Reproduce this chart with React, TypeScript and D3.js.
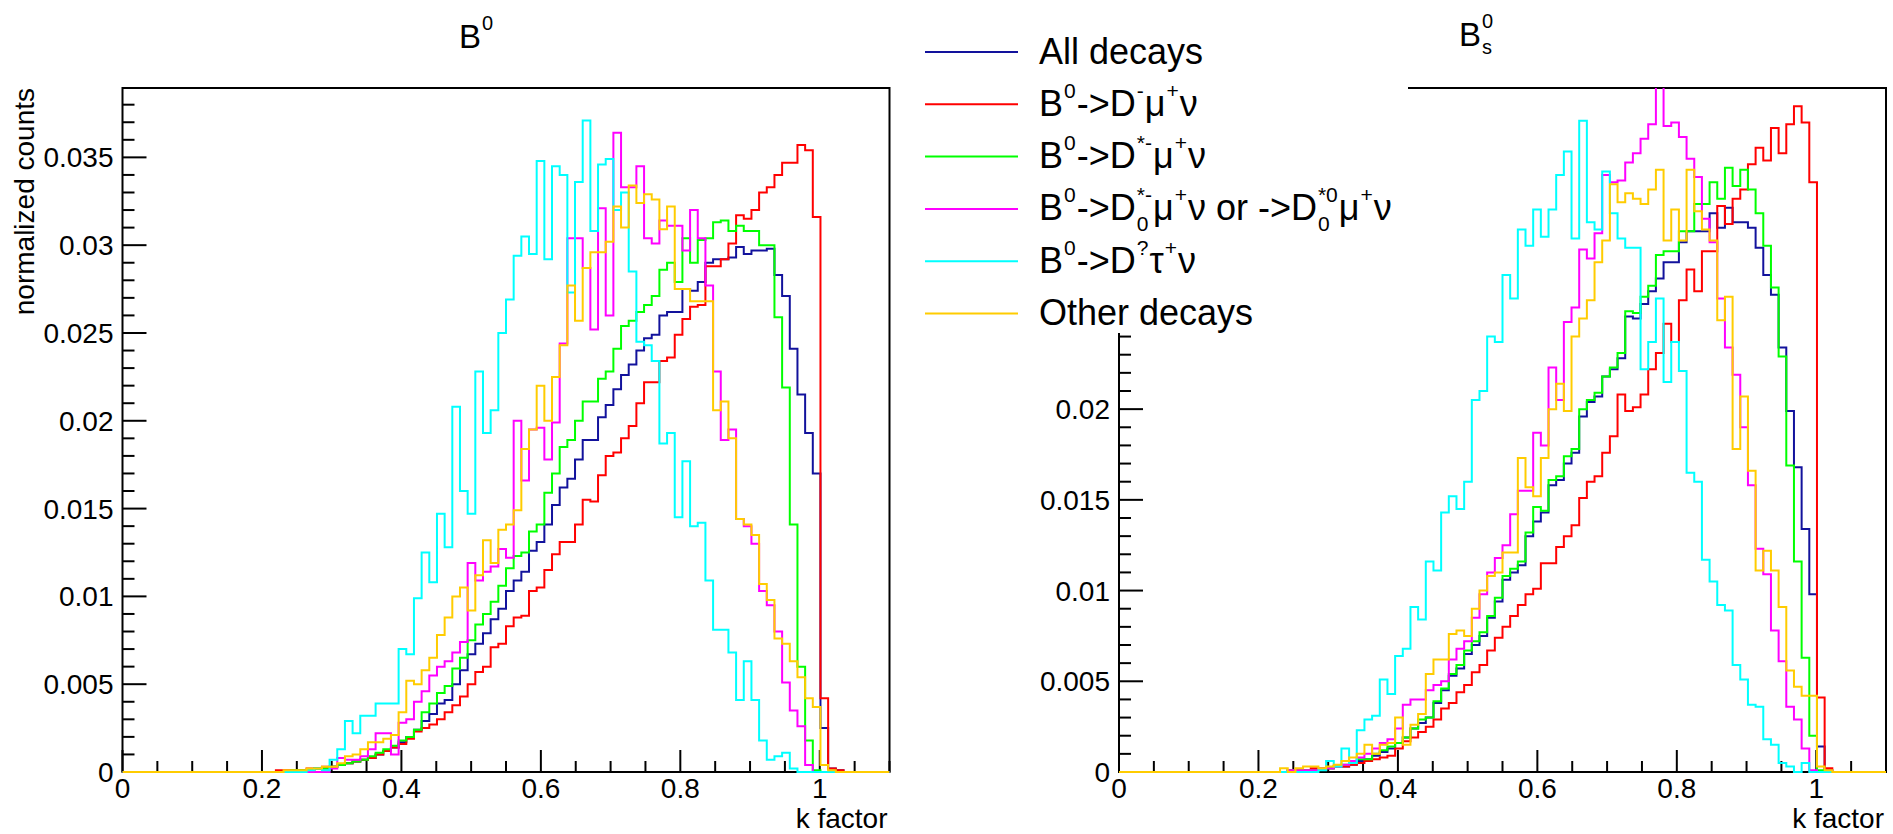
import React, { useEffect, useRef } from "react";
import * as d3 from "d3";

const WIDTH = 1893;
const HEIGHT = 834;
const N_BINS = 100;
const K_MAX = 1.1;
const FIRST_BIN = 18; // arrays below hold bins 18..97, all other bins are empty

// ---------- B0 panel (bins 18..97) ----------
const B0_ALL = [
  0, 0, 0, 0, 0.0001, 0.0001, 0.0001, 0.0002, 0.0002, 0.0003,
  0.0004, 0.0005, 0.0006, 0.0007, 0.0008, 0.0010, 0.0012, 0.0014, 0.0017, 0.0020,
  0.0024, 0.0029, 0.0033, 0.0039, 0.0041, 0.0050, 0.0058, 0.0067, 0.0073, 0.0079,
  0.0087, 0.0093, 0.0103, 0.0109, 0.0114, 0.0126, 0.0131, 0.0141, 0.0152, 0.0162,
  0.0167, 0.0178, 0.0189, 0.0189, 0.0202, 0.0209, 0.0218, 0.0226, 0.0232, 0.0240,
  0.0247, 0.0249, 0.0260, 0.0262, 0.0262, 0.0275, 0.0274, 0.0279, 0.0290, 0.0292,
  0.0292, 0.0293, 0.0299, 0.0295, 0.0297, 0.0297, 0.0298, 0.0283, 0.0271, 0.0241,
  0.0215, 0.0193, 0.0170, 0.0025, 0.0002, 0.0001, 0, 0, 0, 0,
];
const B0_DMUNU = [
  0, 0, 0.0001, 0.0001, 0.0001, 0.0001, 0.0002, 0.0002, 0.0003, 0.0003,
  0.0004, 0.0005, 0.0006, 0.0007, 0.0008, 0.0010, 0.0012, 0.0014, 0.0016, 0.0019,
  0.0023, 0.0025, 0.0027, 0.0030, 0.0034, 0.0038, 0.0043, 0.0050, 0.0057, 0.0060,
  0.0071, 0.0073, 0.0083, 0.0088, 0.0089, 0.0103, 0.0105, 0.0115, 0.0124, 0.0131,
  0.0131, 0.0141, 0.0155, 0.0154, 0.0169, 0.0180, 0.0182, 0.0190, 0.0197, 0.0210,
  0.0222, 0.0222, 0.0234, 0.0236, 0.0249, 0.0258, 0.0265, 0.0266, 0.0288, 0.0288,
  0.0292, 0.0301, 0.0317, 0.0315, 0.0320, 0.0330, 0.0333, 0.0340, 0.0347, 0.0347,
  0.0357, 0.0354, 0.0316, 0.0042, 0.0002, 0.0001, 0, 0, 0, 0,
];
const B0_DSTARMUNU = [
  0, 0, 0, 0, 0.0001, 0.0001, 0.0001, 0.0002, 0.0002, 0.0003,
  0.0004, 0.0005, 0.0006, 0.0007, 0.0009, 0.0011, 0.0013, 0.0015, 0.0018, 0.0020,
  0.0024, 0.0034, 0.0039, 0.0045, 0.0049, 0.0059, 0.0065, 0.0075, 0.0084, 0.0090,
  0.0097, 0.0106, 0.0116, 0.0123, 0.0125, 0.0137, 0.0141, 0.0159, 0.0170, 0.0185,
  0.0189, 0.0200, 0.0211, 0.0211, 0.0224, 0.0228, 0.0241, 0.0254, 0.0257, 0.0262,
  0.0266, 0.0271, 0.0286, 0.0290, 0.0279, 0.0304, 0.0290, 0.0303, 0.0304, 0.0313,
  0.0314, 0.0308, 0.0311, 0.0308, 0.0308, 0.0300, 0.0300, 0.0259, 0.0219, 0.0141,
  0.0060, 0.0018, 0.0001, 0, 0, 0, 0, 0, 0, 0,
];
const B0_D0STARMUNU = [
  0, 0, 0, 0, 0, 0, 0, 0, 0, 0.0002,
  0.0008, 0.0007, 0.0007, 0.0009, 0.0013, 0.0022, 0.0022, 0.0010, 0.0028, 0.0030,
  0.0040, 0.0046, 0.0055, 0.0060, 0.0063, 0.0068, 0.0074, 0.0119, 0.0109, 0.0114,
  0.0117, 0.0127, 0.0122, 0.0200, 0.0166, 0.0195, 0.0196, 0.0178, 0.0199, 0.0244,
  0.0304, 0.0304, 0.0287, 0.0252, 0.0321, 0.0260, 0.0364, 0.0333, 0.0333, 0.0345,
  0.0304, 0.0301, 0.0314, 0.0311, 0.0311, 0.0297, 0.0320, 0.0304, 0.0277, 0.0228,
  0.0189, 0.0195, 0.0144, 0.0140, 0.0130, 0.0103, 0.0095, 0.0080, 0.0051, 0.0035,
  0.0026, 0.0004, 0, 0, 0, 0, 0, 0, 0, 0,
];
const B0_DTAUNU = [
  0, 0, 0, 0, 0, 0, 0.0001, 0.0002, 0.0001, 0.0007,
  0.0013, 0.0029, 0.0022, 0.0032, 0.0032, 0.0039, 0.0039, 0.0039, 0.0070, 0.0067,
  0.0099, 0.0125, 0.0108, 0.0147, 0.0128, 0.0208, 0.0160, 0.0147, 0.0228, 0.0193,
  0.0206, 0.0250, 0.0269, 0.0294, 0.0305, 0.0295, 0.0348, 0.0292, 0.0345, 0.0340,
  0.0273, 0.0336, 0.0371, 0.0308, 0.0346, 0.0349, 0.0320, 0.0330, 0.0285, 0.0245,
  0.0243, 0.0234, 0.0187, 0.0193, 0.0145, 0.0177, 0.0140, 0.0142, 0.0109, 0.0081,
  0.0081, 0.0068, 0.0041, 0.0063, 0.0041, 0.0018, 0.0007, 0.0009, 0.0011, 0.0002,
  0, 0, 0, 0, 0, 0, 0, 0, 0, 0,
];
const B0_OTHER = [
  0, 0, 0, 0.0001, 0.0001, 0.0001, 0.0002, 0.0002, 0.0003, 0.0003,
  0.0005, 0.0009, 0.0010, 0.0013, 0.0017, 0.0017, 0.0019, 0.0021, 0.0034, 0.0052,
  0.0050, 0.0058, 0.0065, 0.0078, 0.0088, 0.0100, 0.0105, 0.0092, 0.0112, 0.0132,
  0.0119, 0.0138, 0.0141, 0.0149, 0.0184, 0.0195, 0.0220, 0.0200, 0.0225, 0.0243,
  0.0277, 0.0257, 0.0287, 0.0296, 0.0296, 0.0302, 0.0322, 0.0310, 0.0334, 0.0324,
  0.0329, 0.0326, 0.0309, 0.0322, 0.0275, 0.0275, 0.0268, 0.0268, 0.0268, 0.0206,
  0.0211, 0.0190, 0.0144, 0.0141, 0.0135, 0.0107, 0.0098, 0.0076, 0.0073, 0.0063,
  0.0054, 0.0042, 0.0037, 0.0004, 0.0001, 0, 0, 0, 0, 0,
];

// ---------- Bs0 panel (bins 18..97) ----------
const BS_ALL = [
  0, 0, 0, 0, 0.0001, 0.0001, 0.0001, 0.0001, 0.0002, 0.0002,
  0.0003, 0.0003, 0.0004, 0.0006, 0.0007, 0.0009, 0.0011, 0.0013, 0.0016, 0.0019,
  0.0024, 0.0027, 0.0030, 0.0038, 0.0045, 0.0053, 0.0057, 0.0065, 0.0070, 0.0075,
  0.0085, 0.0094, 0.0106, 0.0110, 0.0114, 0.0130, 0.0138, 0.0143, 0.0158, 0.0161,
  0.0170, 0.0176, 0.0196, 0.0204, 0.0207, 0.0218, 0.0222, 0.0228, 0.0251, 0.0250,
  0.0258, 0.0265, 0.0272, 0.0281, 0.0281, 0.0292, 0.0298, 0.0298, 0.0298, 0.0308,
  0.0300, 0.0311, 0.0303, 0.0303, 0.0300, 0.0289, 0.0274, 0.0263, 0.0234, 0.0199,
  0.0168, 0.0134, 0.0098, 0.0014, 0.0001, 0, 0, 0, 0, 0,
];
const BS_DMUNU = [
  0, 0, 0, 0, 0.0001, 0.0001, 0.0001, 0.0002, 0.0002, 0.0002,
  0.0003, 0.0003, 0.0004, 0.0005, 0.0006, 0.0007, 0.0008, 0.0009, 0.0013, 0.0017,
  0.0019, 0.0022, 0.0025, 0.0029, 0.0035, 0.0038, 0.0044, 0.0048, 0.0055, 0.0059,
  0.0067, 0.0074, 0.0080, 0.0086, 0.0092, 0.0098, 0.0101, 0.0115, 0.0115, 0.0124,
  0.0130, 0.0136, 0.0151, 0.0160, 0.0163, 0.0176, 0.0185, 0.0208, 0.0199, 0.0201,
  0.0208, 0.0222, 0.0231, 0.0247, 0.0237, 0.0260, 0.0277, 0.0265, 0.0287, 0.0287,
  0.0312, 0.0302, 0.0316, 0.0321, 0.0335, 0.0344, 0.0337, 0.0355, 0.0341, 0.0357,
  0.0367, 0.0358, 0.0325, 0.0041, 0.0002, 0, 0, 0, 0, 0,
];
const BS_DSTARMUNU = [
  0, 0, 0, 0, 0.0001, 0.0001, 0.0001, 0.0001, 0.0002, 0.0002,
  0.0003, 0.0004, 0.0005, 0.0007, 0.0007, 0.0010, 0.0012, 0.0014, 0.0016, 0.0019,
  0.0024, 0.0029, 0.0030, 0.0039, 0.0046, 0.0054, 0.0059, 0.0067, 0.0072, 0.0077,
  0.0086, 0.0096, 0.0108, 0.0112, 0.0116, 0.0132, 0.0146, 0.0144, 0.0161, 0.0163,
  0.0174, 0.0178, 0.0200, 0.0205, 0.0209, 0.0218, 0.0223, 0.0231, 0.0254, 0.0253,
  0.0262, 0.0268, 0.0285, 0.0287, 0.0287, 0.0298, 0.0298, 0.0313, 0.0313, 0.0325,
  0.0316, 0.0333, 0.0323, 0.0332, 0.0321, 0.0308, 0.0290, 0.0267, 0.0229, 0.0169,
  0.0116, 0.0063, 0.0020, 0.0001, 0, 0, 0, 0, 0, 0,
];
const BS_D0STARMUNU = [
  0, 0, 0, 0, 0.0001, 0.0001, 0.0001, 0.0001, 0.0002, 0.0002,
  0.0003, 0.0004, 0.0006, 0.0008, 0.0010, 0.0013, 0.0016, 0.0018, 0.0024, 0.0037,
  0.0040, 0.0040, 0.0045, 0.0048, 0.0050, 0.0062, 0.0068, 0.0072, 0.0085, 0.0098,
  0.0110, 0.0118, 0.0125, 0.0142, 0.0155, 0.0155, 0.0187, 0.0180, 0.0223, 0.0205,
  0.0248, 0.0256, 0.0288, 0.0283, 0.0297, 0.0329, 0.0325, 0.0326, 0.0336, 0.0341,
  0.0349, 0.0357, 0.0390, 0.0356, 0.0358, 0.0350, 0.0338, 0.0328, 0.0305, 0.0292,
  0.0261, 0.0234, 0.0219, 0.0190, 0.0158, 0.0123, 0.0109, 0.0078, 0.0061, 0.0036,
  0.0029, 0.0013, 0.0001, 0, 0, 0, 0, 0, 0, 0,
];
const BS_DTAUNU = [
  0, 0, 0, 0, 0, 0, 0, 0, 0.0001, 0.0006,
  0.0003, 0.0013, 0.0005, 0.0023, 0.0029, 0.0031, 0.0051, 0.0043, 0.0064, 0.0068,
  0.0091, 0.0084, 0.0116, 0.0111, 0.0143, 0.0152, 0.0145, 0.0160, 0.0205, 0.0210,
  0.0240, 0.0237, 0.0274, 0.0261, 0.0299, 0.0290, 0.0310, 0.0295, 0.0310, 0.0329,
  0.0342, 0.0294, 0.0359, 0.0303, 0.0299, 0.0331, 0.0308, 0.0294, 0.0289, 0.0289,
  0.0222, 0.0237, 0.0261, 0.0215, 0.0237, 0.0221, 0.0165, 0.0160, 0.0117, 0.0105,
  0.0092, 0.0089, 0.0059, 0.0051, 0.0037, 0.0036, 0.0018, 0.0015, 0.0005, 0.0003,
  0, 0.0005, 0, 0, 0, 0, 0, 0, 0, 0,
];
const BS_OTHER = [
  0, 0, 0, 0.0002, 0, 0.0002, 0.0003, 0.0003, 0.0002, 0.0003,
  0.0004, 0.0006, 0.0008, 0.0010, 0.0015, 0.0010, 0.0015, 0.0016, 0.0030, 0.0015,
  0.0026, 0.0032, 0.0054, 0.0062, 0.0062, 0.0076, 0.0078, 0.0075, 0.0090, 0.0100,
  0.0108, 0.0110, 0.0121, 0.0121, 0.0173, 0.0157, 0.0152, 0.0173, 0.0200, 0.0214,
  0.0199, 0.0240, 0.0250, 0.0260, 0.0281, 0.0293, 0.0324, 0.0314, 0.0319, 0.0316,
  0.0313, 0.0321, 0.0332, 0.0293, 0.0310, 0.0293, 0.0332, 0.0309, 0.0299, 0.0293,
  0.0249, 0.0262, 0.0178, 0.0207, 0.0166, 0.0111, 0.0122, 0.0111, 0.0091, 0.0056,
  0.0047, 0.0042, 0.0042, 0.0003, 0.0001, 0, 0, 0, 0, 0,
];

const SERIES_COLORS = ["#12129c", "#ff0000", "#00ff00", "#ff00ff", "#00ffff", "#ffcc00"];
const B0_SERIES = [B0_ALL, B0_DMUNU, B0_DSTARMUNU, B0_D0STARMUNU, B0_DTAUNU, B0_OTHER];
const BS_SERIES = [BS_ALL, BS_DMUNU, BS_DSTARMUNU, BS_D0STARMUNU, BS_DTAUNU, BS_OTHER];

const Y_TICK_VALUES = [0, 0.005, 0.01, 0.015, 0.02, 0.025, 0.03, 0.035];
const Y_TICK_LABELS = ["0", "0.005", "0.01", "0.015", "0.02", "0.025", "0.03", "0.035"];
const X_TICK_VALUES = [0, 0.2, 0.4, 0.6, 0.8, 1];
const X_TICK_LABELS = ["0", "0.2", "0.4", "0.6", "0.8", "1"];

type Seg = [string, "n" | "sup" | "supsub", string?];
const TITLE_B0: Seg[] = [["B", "n"], ["0", "sup"]];
const TITLE_BS: Seg[] = [["B", "n"], ["0", "supsub", "s"]];
const LEGEND_LABELS: Seg[][] = [
  [["All decays", "n"]],
  [["B", "n"], ["0", "sup"], ["->D", "n"], ["-", "sup"], ["\u03bc", "n"], ["+", "sup"], ["\u03bd", "n"]],
  [["B", "n"], ["0", "sup"], ["->D", "n"], ["*-", "sup"], ["\u03bc", "n"], ["+", "sup"], ["\u03bd", "n"]],
  [["B", "n"], ["0", "sup"], ["->D", "n"], ["*-", "supsub", "0"], ["\u03bc", "n"], ["+", "sup"],
   ["\u03bd or ->D", "n"], ["*0", "supsub", "0"], ["\u03bc", "n"], ["+", "sup"], ["\u03bd", "n"]],
  [["B", "n"], ["0", "sup"], ["->D", "n"], ["?", "sup"], ["\u03c4", "n"], ["+", "sup"], ["\u03bd", "n"]],
  [["Other decays", "n"]],
];

const FONT = "'Liberation Sans', Arial, Helvetica, sans-serif";

// legend box (white, drawn over the upper-left corner of the right panel)
const LEGEND_BOX = { x0: 893, x1: 1408, y0: 0, y1: 333 };

const PANELS = [
  { x0: 122.5, x1: 889.5, y0: 88, y1: 772, yMax: 0.03895, series: B0_SERIES, title: TITLE_B0, titleX: 459, titleY: 48 },
  { x0: 1119, x1: 1886, y0: 88, y1: 772, yMax: 0.0377, series: BS_SERIES, title: TITLE_BS, titleX: 1459, titleY: 46 },
];

function drawRich(
  g: d3.Selection<SVGGElement, unknown, null, undefined>,
  segs: Seg[], x: number, base: number, size: number, small: number, raise: number, drop: number
) {
  let cx = x;
  for (const [txt, kind, sub] of segs) {
    if (kind === "n") {
      const t = g.append("text").attr("x", cx).attr("y", base).attr("font-size", size).text(txt);
      cx += (t.node() as SVGTextElement).getComputedTextLength();
    } else if (kind === "sup") {
      const t = g.append("text").attr("x", cx + 1).attr("y", base - raise).attr("font-size", small).text(txt);
      cx += (t.node() as SVGTextElement).getComputedTextLength() + 2;
    } else {
      const t1 = g.append("text").attr("x", cx + 1).attr("y", base - raise).attr("font-size", small).text(txt);
      const t2 = g.append("text").attr("x", cx + 1).attr("y", base + drop).attr("font-size", small).text(sub || "");
      const w = Math.max(
        (t1.node() as SVGTextElement).getComputedTextLength(),
        (t2.node() as SVGTextElement).getComputedTextLength()
      );
      cx += w + 2;
    }
  }
}

export default function App() {
  const ref = useRef<SVGSVGElement>(null);

  useEffect(() => {
    const svg = d3.select(ref.current);
    svg.selectAll("*").remove();
    const root = svg.append("g").attr("font-family", FONT).attr("fill", "#000");
    root.append("rect").attr("width", WIDTH).attr("height", HEIGHT).attr("fill", "#fff");

    const binW = K_MAX / N_BINS;

    PANELS.forEach((p, pi) => {
      const g = root.append("g");
      const x = d3.scaleLinear().domain([0, K_MAX]).range([p.x0, p.x1]);
      const y = d3.scaleLinear().domain([0, p.yMax]).range([p.y1, p.y0]);
      const clipId = `frameclip${pi}`;
      g.append("clipPath").attr("id", clipId).append("rect")
        .attr("x", p.x0).attr("y", p.y0).attr("width", p.x1 - p.x0).attr("height", p.y1 - p.y0 + 2);

      // frame
      g.append("rect").attr("x", p.x0).attr("y", p.y0).attr("width", p.x1 - p.x0).attr("height", p.y1 - p.y0)
        .attr("fill", "none").attr("stroke", "#000").attr("stroke-width", 2);

      // ticks
      const yMinor = d3.range(0, Math.floor(p.yMax / 0.001 + 1e-6) + 1);
      yMinor.forEach((i) => {
        const yy = y(i * 0.001);
        const len = i % 5 === 0 ? 24 : 12;
        g.append("line").attr("x1", p.x0).attr("x2", p.x0 + len).attr("y1", yy).attr("y2", yy)
          .attr("stroke", "#000").attr("stroke-width", 2);
      });
      d3.range(0, 23).forEach((i) => {
        const xx = x(i * 0.05);
        const len = i % 4 === 0 ? 22 : 11;
        g.append("line").attr("x1", xx).attr("x2", xx).attr("y1", p.y1).attr("y2", p.y1 - len)
          .attr("stroke", "#000").attr("stroke-width", 2);
      });

      // histograms
      const line = d3.line<[number, number]>().curve(d3.curveStepAfter);
      p.series.forEach((vals, si) => {
        const full = d3.range(N_BINS).map((i) => {
          const k = i - FIRST_BIN;
          return k >= 0 && k < vals.length ? vals[k] : 0;
        });
        const pts: [number, number][] = full.map((v, i) => [x(i * binW), y(v)]);
        pts.push([x(K_MAX), y(full[N_BINS - 1])]);
        g.append("path").attr("d", line(pts) || "").attr("fill", "none")
          .attr("stroke", SERIES_COLORS[si]).attr("stroke-width", 2)
          .attr("clip-path", `url(#${clipId})`);
      });

      // tick labels (skip the ones hidden under the legend box)
      Y_TICK_VALUES.forEach((v, i) => {
        const yy = y(v);
        const lx = p.x0 - 9;
        if (lx > LEGEND_BOX.x0 && lx < LEGEND_BOX.x1 + 80 && yy - 14 < LEGEND_BOX.y1) return;
        g.append("text").attr("x", lx).attr("y", yy + 10).attr("text-anchor", "end")
          .attr("font-size", 28).text(Y_TICK_LABELS[i]);
      });
      X_TICK_VALUES.forEach((v, i) => {
        g.append("text").attr("x", x(v)).attr("y", 798).attr("text-anchor", "middle")
          .attr("font-size", 28).text(X_TICK_LABELS[i]);
      });

      // axis titles
      g.append("text").attr("x", p.x1 - 2).attr("y", 828).attr("text-anchor", "end")
        .attr("font-size", 28).text("k factor");
      if (pi === 0) {
        g.append("text").attr("transform", `translate(34,${p.y0}) rotate(-90)`)
          .attr("text-anchor", "end").attr("font-size", 28).text("normalized counts");
      }

      drawRich(g, p.title, p.titleX, p.titleY, 33, 20, 18, 8);
    });

    // legend
    const lg = root.append("g");
    lg.append("rect").attr("x", LEGEND_BOX.x0).attr("y", LEGEND_BOX.y0)
      .attr("width", LEGEND_BOX.x1 - LEGEND_BOX.x0).attr("height", LEGEND_BOX.y1 - LEGEND_BOX.y0)
      .attr("fill", "#fff");
    LEGEND_LABELS.forEach((segs, i) => {
      const cy = 52 + i * 52.3;
      lg.append("line").attr("x1", 925).attr("x2", 1018).attr("y1", cy).attr("y2", cy)
        .attr("stroke", SERIES_COLORS[i]).attr("stroke-width", 2);
      drawRich(lg, segs, 1039, cy + 11.5, 36, 21, 18, 11);
    });
  }, []);

  return (
    <svg
      ref={ref}
      width={WIDTH}
      height={HEIGHT}
      style={{ position: "absolute", left: 0, top: 0, display: "block", background: "#fff" }}
    />
  );
}
